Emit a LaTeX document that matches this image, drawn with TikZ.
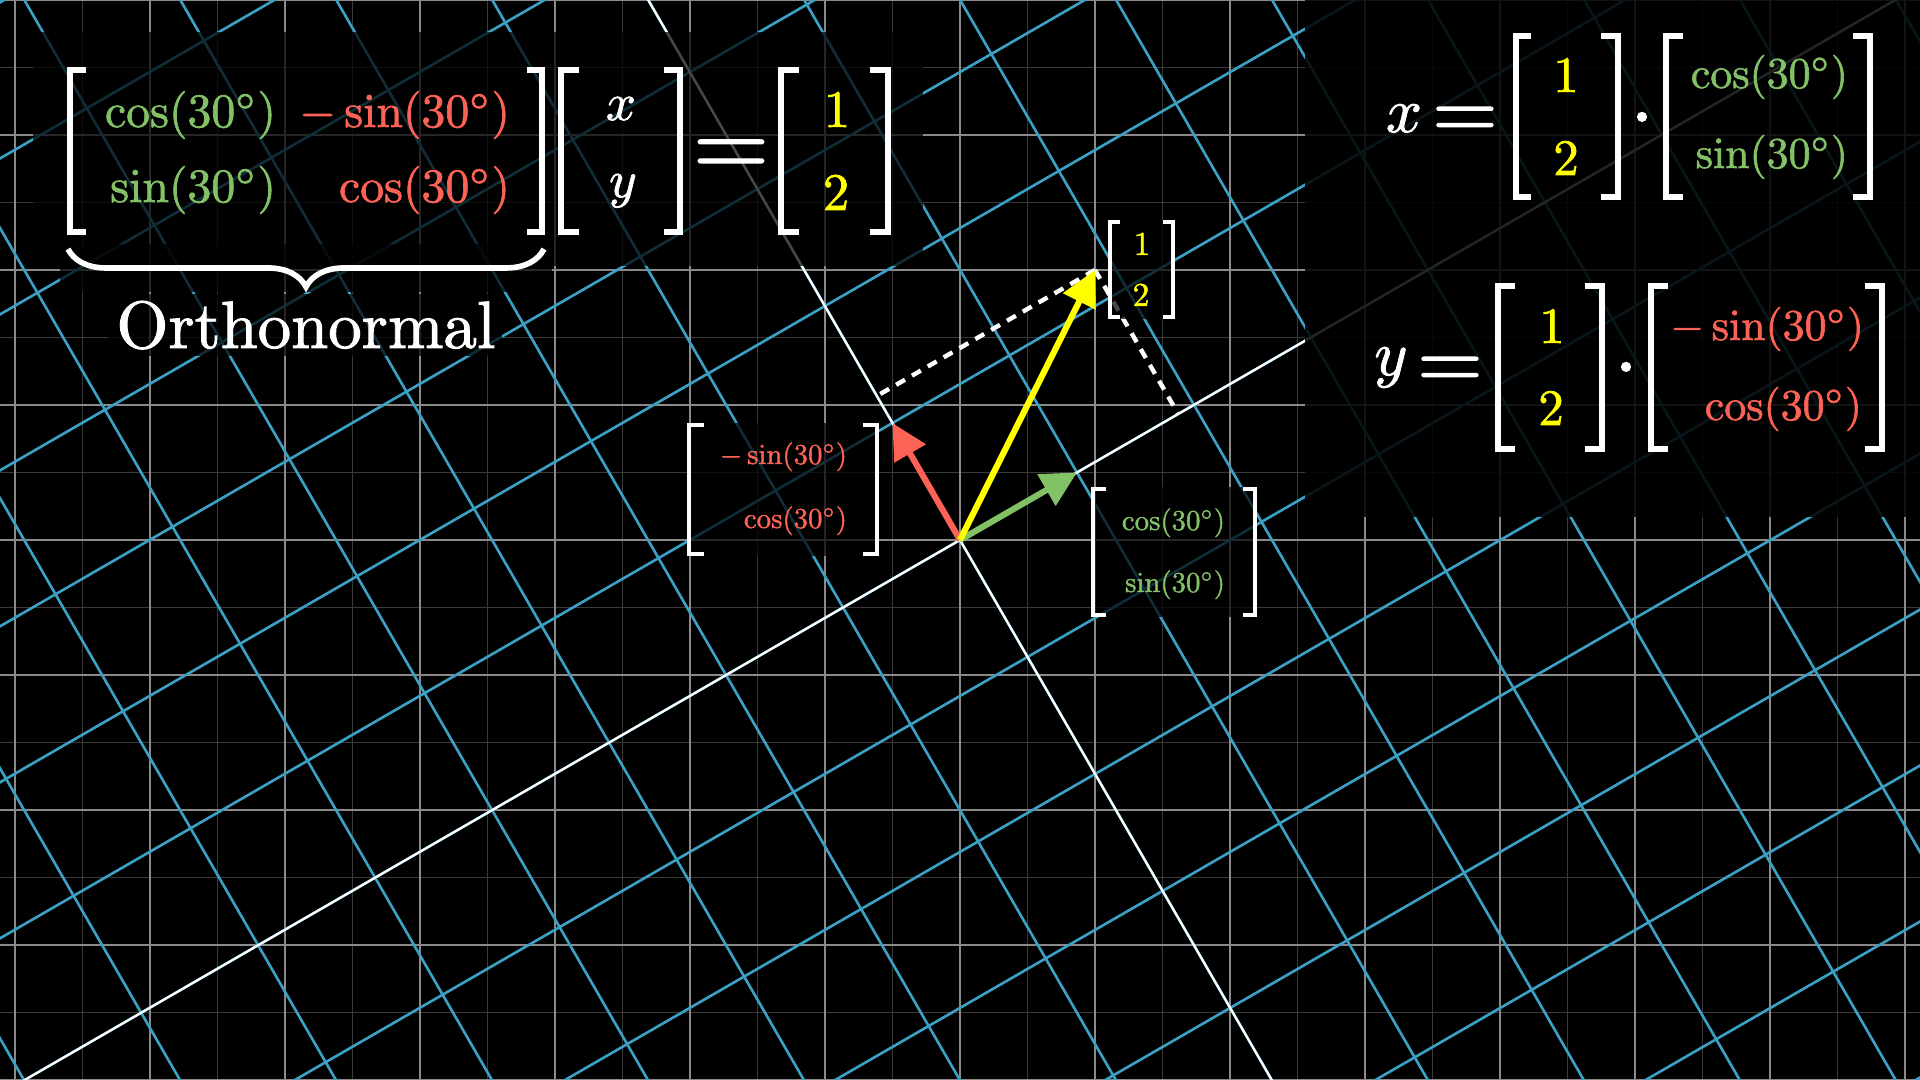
\RequirePackage{fix-cm}
\documentclass[tikz,border=0pt]{standalone}
\usepackage{graphicx}
\usetikzlibrary{arrows.meta,decorations.pathreplacing}
\definecolor{mgreen}{HTML}{83C167}
\definecolor{mred}{HTML}{FC6255}
\definecolor{myellow}{HTML}{FFFF00}
\definecolor{gridblue}{HTML}{3BA0C4}
\definecolor{gridgrey}{HTML}{8A8A8A}
\definecolor{gridfaint}{HTML}{3A3A3A}
\tikzset{
  faintline/.style={draw=gridfaint, line width=0.5pt},
  mainline/.style={draw=gridgrey, line width=0.7pt},
  blueline/.style={draw=gridblue, line width=0.75pt},
  axisw/.style={draw=white, line width=0.65pt},
  vec/.style={line width=1.75pt, -{Triangle[length=10pt,width=10pt]}},
  proj/.style={draw=white, line width=1.25pt, dash pattern=on 2.9pt off 2.3pt},
  brk/.style={draw=white, line width=1.7pt, line join=miter, line cap=butt},
  sbrk/.style={draw=white, line width=1.28pt, line join=miter, line cap=butt},
  ybrk/.style={draw=white, line width=1pt, line join=miter, line cap=butt},
  bgbox/.style={fill=black, fill opacity=0.72, draw=none},
  tx/.style={inner sep=0pt, outer sep=0pt, font=\fontsize{10}{12}\selectfont,
    execute at begin node={\special{pdf:literal direct 2 Tr 0.14 w}},
    execute at end node={\special{pdf:literal direct 0 Tr}}},
}
\begin{document}
\begin{tikzpicture}[x=0.01cm, y=-0.01cm]
\useasboundingbox (0,0) rectangle (1920,1080);
\clip (0,0) rectangle (1920,1080);
\fill[black] (0,0) rectangle (1920,1080);

% background square grid
\foreach \i in {0,...,14} \draw[faintline] ({82.5+135*\i},0) -- ++(0,1080);
\foreach \j in {0,...,7} \draw[faintline] (0,{67.5+135*\j}) -- ++(1920,0);
\foreach \i in {0,...,14} \draw[mainline] ({15+135*\i},0) -- ++(0,1080);
\foreach \j in {0,...,8} \draw[mainline] (0,{135*\j}) -- ++(1920,0);

% rotated grid
\begin{scope}[shift={(960,540)}, x={(1.1691cm,0.675cm)}, y={(-0.675cm,1.1691cm)}]
  \foreach \k in {-9,...,9} {
    \draw[blueline] (\k,-9) -- (\k,9);
    \draw[blueline] (-9,\k) -- (9,\k);
  }
  \draw[axisw] (-9,0) -- (9,0);
  \draw[axisw] (0,-9) -- (0,9);
\end{scope}

% points
\coordinate (O) at (960,540);
\coordinate (G) at (1076.9,472.5);
\coordinate (R) at (892.5,423.1);
\coordinate (Y) at (1095,270);
\coordinate (P1) at (876.8,396.0);
\coordinate (P2) at (1178.2,414.0);

% projections
\draw[proj] (Y) -- (P1);
\draw[proj] (Y) -- (P2);

% vectors
\draw[vec, draw=mred] (O) -- (R);
\draw[vec, draw=mgreen] (O) -- (G);
\draw[vec, draw=myellow] (O) -- (Y);

% ---------- top-left equation ----------
\fill[bgbox] (33,32) rectangle (923,266);
\fill[bgbox] (60,244) rectangle (552,292);
\fill[bgbox] (108,294) rectangle (502,356);

\draw[brk] (86,70) -| (70,232) -- (86,232);
\draw[brk] (527,70) -| (542,232) -- (527,232);
\draw[brk] (579,70) -| (561,232) -- (579,232);
\draw[brk] (664,70) -| (680,232) -- (664,232);
\draw[brk] (799,70) -| (781,232) -- (799,232);
\draw[brk] (870,70) -| (888,232) -- (870,232);

\node[tx, text=mgreen, anchor=base east] (m11) at (276,127) {\scalebox{1.36}{$\cos(30^\circ)$}};
\node[tx, text=mred, anchor=base east] (m12) at (510,127) {\scalebox{1.36}{$-\sin(30^\circ)$}};
\node[tx, text=mgreen, anchor=base east] (m21) at (276,202) {\scalebox{1.36}{$\sin(30^\circ)$}};
\node[tx, text=mred, anchor=base east] (m22) at (510,202) {\scalebox{1.36}{$\cos(30^\circ)$}};
\node[tx, text=white, anchor=base] (vx) at (621,120) {\scalebox{1.5}{$x$}};
\node[tx, text=white, anchor=base] (vy) at (623,197) {\scalebox{1.5}{$y$}};
\node[tx, text=white, anchor=base] (eqa) at (731,176) {\scalebox{2.8}{$=$}};
\node[tx, text=myellow, anchor=base] (ra) at (837,127) {\scalebox{1.5}{$1$}};
\node[tx, text=myellow, anchor=base] (rb) at (836,210) {\scalebox{1.5}{$2$}};

\draw[white, line width=1.6pt, decorate, decoration={brace, mirror, amplitude=10.8pt}] (68,249) -- (544,249);
\node[tx, text=white, anchor=base] (ortho) at (306,348) {\scalebox{1.9}{Orthonormal}};

% ---------- right equations ----------
\fill[black, fill opacity=0.86] (1305,0) rectangle (1920,517);

% x equation
\node[tx, text=white, anchor=base] (xl) at (1404,132) {\scalebox{1.8}{$x$}};
\node[tx, text=white, anchor=base] (xeq) at (1465,138) {\scalebox{2.4}{$=$}};
\draw[brk] (1531,36) -| (1516,197) -- (1531,197);
\draw[brk] (1601,36) -| (1618,197) -- (1601,197);
\node[tx, text=myellow, anchor=base] (x1) at (1566,92) {\scalebox{1.45}{$1$}};
\node[tx, text=myellow, anchor=base] (x2) at (1566,175) {\scalebox{1.45}{$2$}};
\node[tx, text=white, anchor=base] (xdot) at (1642,138) {\scalebox{2.4}{$\cdot$}};
\draw[brk] (1683,36) -| (1666,197) -- (1683,197);
\draw[brk] (1853,36) -| (1870,197) -- (1853,197);
\node[tx, text=mgreen, anchor=base east] (xc) at (1848,88) {\scalebox{1.25}{$\cos(30^\circ)$}};
\node[tx, text=mgreen, anchor=base east] (xs) at (1848,168) {\scalebox{1.25}{$\sin(30^\circ)$}};

% y equation
\node[tx, text=white, anchor=base] (yl) at (1391,375) {\scalebox{1.8}{$y$}};
\node[tx, text=white, anchor=base] (yeq) at (1450,388) {\scalebox{2.4}{$=$}};
\draw[brk] (1515,286) -| (1498,449) -- (1515,449);
\draw[brk] (1585,286) -| (1602,449) -- (1585,449);
\node[tx, text=myellow, anchor=base] (y1) at (1552,343) {\scalebox{1.45}{$1$}};
\node[tx, text=myellow, anchor=base] (y2) at (1551,425) {\scalebox{1.45}{$2$}};
\node[tx, text=white, anchor=base] (ydot) at (1626,388) {\scalebox{2.4}{$\cdot$}};
\draw[brk] (1668,286) -| (1651,449) -- (1668,449);
\draw[brk] (1865,286) -| (1882,449) -- (1865,449);
\node[tx, text=mred, anchor=base east] (ys) at (1864,340) {\scalebox{1.25}{$-\sin(30^\circ)$}};
\node[tx, text=mred, anchor=base east] (yc) at (1862,420) {\scalebox{1.25}{$\cos(30^\circ)$}};

% ---------- vector labels ----------
\fill[bgbox] (687,423) rectangle (879,556);
\draw[sbrk] (704,425) -| (689,554) -- (704,554);
\draw[sbrk] (863,425) -| (877,554) -- (863,554);
\node[tx, text=mred, anchor=base east] (rs) at (847,464) {\scalebox{0.82}{$-\sin(30^\circ)$}};
\node[tx, text=mred, anchor=base east] (rc) at (847,528) {\scalebox{0.82}{$\cos(30^\circ)$}};

\fill[bgbox] (1091,487) rectangle (1257,617);
\draw[sbrk] (1106,489) -| (1093,615) -- (1106,615);
\draw[sbrk] (1243,489) -| (1255,615) -- (1243,615);
\node[tx, text=mgreen, anchor=base east] (gc) at (1225,530) {\scalebox{0.82}{$\cos(30^\circ)$}};
\node[tx, text=mgreen, anchor=base east] (gs) at (1225,592) {\scalebox{0.82}{$\sin(30^\circ)$}};

\fill[bgbox] (1108,220) rectangle (1175,319);
\draw[ybrk] (1120,222) -| (1110,317) -- (1120,317);
\draw[ybrk] (1163,222) -| (1173,317) -- (1163,317);
\node[tx, text=myellow, anchor=base] (l1) at (1142,255) {\scalebox{0.95}{$1$}};
\node[tx, text=myellow, anchor=base] (l2) at (1141,306) {\scalebox{0.95}{$2$}};
\end{tikzpicture}
\end{document}
